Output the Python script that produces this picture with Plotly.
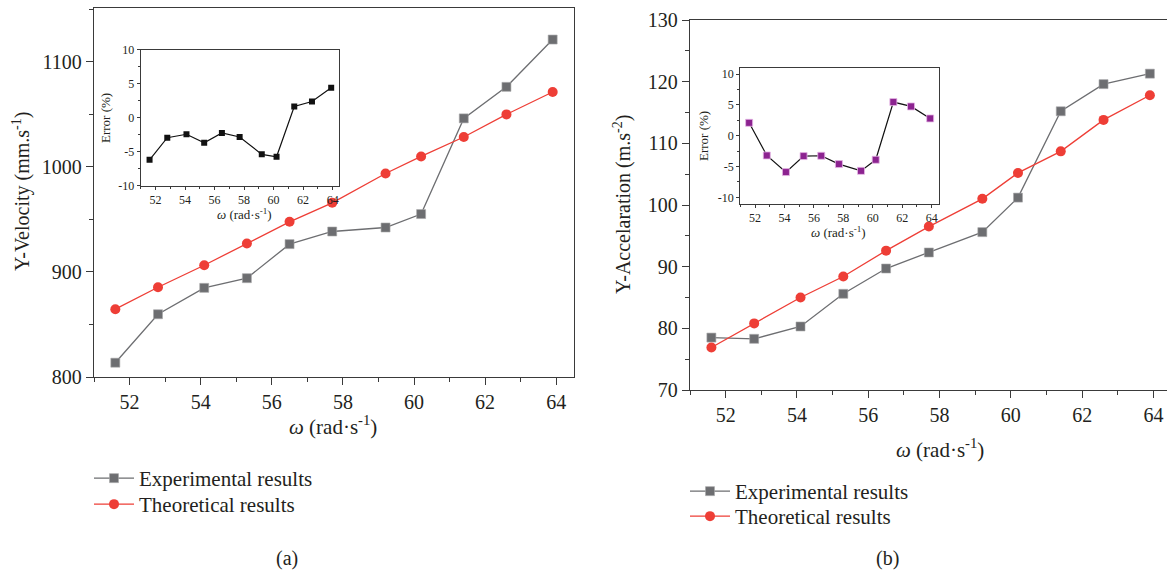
import plotly.graph_objects as go

# Angular speed samples (rad/s)
omega = [51.6, 52.8, 54.1, 55.3, 56.5, 57.7, 59.2, 60.2, 61.4, 62.6, 63.9]

# (a) Y-velocity (mm/s)
vel_exp = [813.6, 859.7, 884.8, 894.0, 926.4, 938.4, 942.2, 955.0, 1046.0, 1076.0, 1121.0]
vel_theo = [864.5, 885.4, 906.3, 927.0, 947.6, 965.7, 993.6, 1009.8, 1028.3, 1049.8, 1071.1]
vel_err = [-6.2, -2.95, -2.45, -3.7, -2.26, -2.85, -5.4, -5.75, 1.63, 2.36, 4.38]

# (b) Y-acceleration (m/s^2)
acc_exp = [78.5, 78.3, 80.3, 85.6, 89.7, 92.3, 95.6, 101.2, 115.2, 119.6, 121.3]
acc_theo = [76.9, 80.8, 85.0, 88.4, 92.6, 96.5, 101.0, 105.2, 108.7, 113.8, 117.8]
acc_err = [2.1, -3.2, -5.9, -3.3, -3.25, -4.6, -5.7, -3.9, 5.47, 4.76, 2.81]

err_ticks = [-10, -5, 0, 5, 10]
err_tick_text = ["-10", "-5", "0", "5", "10"]

W, H = 1167, 574
FONT = "Liberation Serif"
INK = "#231f20"
GRAY = "#6d6e71"
RED = "#ee3e36"
PURPLE = "#8c2390"
AX = "#3a3a3a"


def px_x(a, b):
    return [a / W, b / W]


def px_y(top, bottom):
    return [1 - bottom / H, 1 - top / H]


fig = go.Figure()

exp_style = dict(mode="lines+markers", name="Experimental results",
                 line=dict(color=GRAY, width=1.3),
                 marker=dict(symbol="square", size=9, color=GRAY, line=dict(color="#a7a8aa", width=0.6)))
theo_style = dict(mode="lines+markers", name="Theoretical results",
                  line=dict(color=RED, width=1.3),
                  marker=dict(symbol="circle", size=10, color=RED))

# main traces, one legend box per entry
fig.add_trace(go.Scatter(x=omega, y=vel_exp, xaxis="x", yaxis="y", legend="legend", **exp_style))
fig.add_trace(go.Scatter(x=omega, y=vel_theo, xaxis="x", yaxis="y", legend="legend2", **theo_style))
fig.add_trace(go.Scatter(x=omega, y=acc_exp, xaxis="x3", yaxis="y3", legend="legend3", **exp_style))
fig.add_trace(go.Scatter(x=omega, y=acc_theo, xaxis="x3", yaxis="y3", legend="legend4", **theo_style))

# error insets
fig.add_trace(go.Scatter(x=omega, y=vel_err, mode="lines+markers", showlegend=False,
                         line=dict(color="#111111", width=1.2),
                         marker=dict(symbol="square", size=6, color="#111111"),
                         xaxis="x2", yaxis="y2"))
fig.add_trace(go.Scatter(x=omega, y=acc_err, mode="lines+markers", showlegend=False,
                         line=dict(color="#111111", width=1.2),
                         marker=dict(symbol="square", size=7, color=PURPLE, line=dict(color="#e6b8e6", width=0.8)),
                         xaxis="x4", yaxis="y4"))

axis_common = dict(showgrid=False, zeroline=False, showline=True, linecolor=AX, linewidth=1.3,
                   ticks="outside", tickcolor=AX, tickwidth=1.2, automargin=False,
                   tickfont=dict(family=FONT, color=INK))

main_x = dict(axis_common, ticklen=7, tickfont=dict(family=FONT, size=20, color=INK),
              tickvals=[52, 54, 56, 58, 60, 62, 64],
              minor=dict(dtick=1, tick0=51, ticklen=4, ticks="outside", tickcolor=AX, tickwidth=1.2))
inset_x = dict(axis_common, ticklen=3, tickfont=dict(family=FONT, size=12, color=INK),
               tickvals=[52, 54, 56, 58, 60, 62, 64],
               minor=dict(dtick=1, tick0=51, ticklen=2, ticks="outside", tickcolor=AX, tickwidth=1))
inset_y = dict(axis_common, ticklen=3, tickfont=dict(family=FONT, size=12, color=INK),
               tickvals=err_ticks, ticktext=err_tick_text,
               minor=dict(dtick=2.5, tick0=0, ticklen=2, ticks="outside", tickcolor=AX, tickwidth=1))

legend_style = dict(xanchor="left", yanchor="top", font=dict(family=FONT, size=21, color=INK),
                    bgcolor="rgba(0,0,0,0)", itemwidth=40)

fig.update_layout(
    width=W, height=H,
    margin=dict(l=0, r=0, t=0, b=0, autoexpand=False),
    paper_bgcolor="white", plot_bgcolor="white",
    font=dict(family=FONT, color=INK),
    xaxis=dict(main_x, domain=px_x(94, 574), range=[51, 64.5], anchor="y", mirror=True),
    yaxis=dict(axis_common, domain=px_y(8, 377), range=[800, 1151], anchor="x", mirror=True,
               ticklen=7, tickfont=dict(family=FONT, size=20, color=INK),
               tickvals=[800, 900, 1000, 1100],
               minor=dict(dtick=50, tick0=800, ticklen=4, ticks="outside", tickcolor=AX, tickwidth=1.2)),
    xaxis2=dict(inset_x, domain=px_x(140.7, 339.3), range=[51, 64.45], anchor="y2", mirror=True),
    yaxis2=dict(inset_y, domain=px_y(49.5, 185.7), range=[-10, 10], anchor="x2", mirror=True),
    xaxis3=dict(main_x, domain=px_x(690, 1167), range=[51, 64.38], anchor="y3", mirror=True),
    yaxis3=dict(axis_common, domain=px_y(20, 390), range=[70, 130], anchor="x3", mirror=False,
                ticklen=7, tickfont=dict(family=FONT, size=20, color=INK),
                tickvals=[70, 80, 90, 100, 110, 120, 130],
                minor=dict(dtick=5, tick0=70, ticklen=4, ticks="outside", tickcolor=AX, tickwidth=1.2)),
    xaxis4=dict(inset_x, domain=px_x(740.3, 939), range=[51, 64.5], anchor="y4", mirror=True),
    yaxis4=dict(inset_y, domain=px_y(68, 203.5), range=[-11, 11], anchor="x4", mirror=True),
    legend=dict(legend_style, x=89 / W, y=1 - 458 / H),
    legend2=dict(legend_style, x=89 / W, y=1 - 484 / H),
    legend3=dict(legend_style, x=685 / W, y=1 - 471 / H),
    legend4=dict(legend_style, x=685 / W, y=1 - 496 / H),
)


def label(text, x, y, size, angle=0):
    fig.add_annotation(text=text, x=x / W, y=1 - y / H, xref="paper", yref="paper",
                       xanchor="center", yanchor="middle", showarrow=False, textangle=angle,
                       font=dict(family=FONT, size=size, color=INK))


omega_title = "<i>ω</i> (rad·s<sup>-1</sup>)"
label("Y-Velocity (mm.s<sup>-1</sup>)", 21, 192, 20, -90)
label(omega_title, 333, 425, 21)
label("Error (%)", 106, 118, 13, -90)
label(omega_title, 244, 214, 13)
label("(a)", 287, 558, 20)

label("Y-Accelaration (m.s<sup>-2</sup>)", 622, 205, 20, -90)
label(omega_title, 940, 448, 21)
label("Error (%)", 703, 136, 13, -90)
label(omega_title, 838, 232, 13)
label("(b)", 887, 558, 20)

fig.write_html("out.html")
